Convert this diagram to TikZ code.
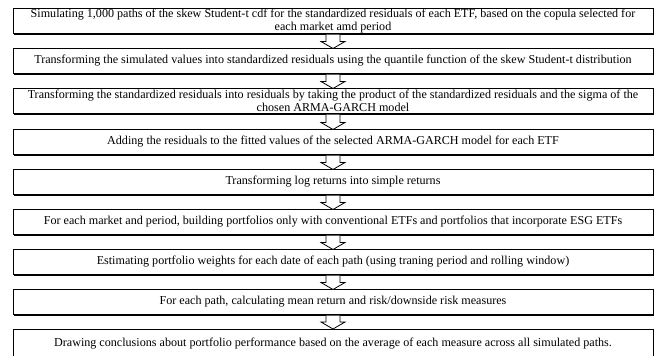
\documentclass[tikz,border=0pt]{standalone}
\usepackage{fontspec}
\setmainfont{Liberation Serif}
\usetikzlibrary{calc,shadows}
\begin{document}
\begin{tikzpicture}[x=1pt,y=-1pt,
  stepbox/.style={draw=black, line width=0.9pt, fill=white, minimum width=640pt, minimum height=25pt,
    inner sep=0pt, outer sep=0pt, align=center,
    font=\fontsize{12.1}{13}\selectfont,
    drop shadow={shadow xshift=1.2pt, shadow yshift=-1.2pt, opacity=1, fill=black}},
  blockarrow/.style={draw=black, line width=0.8pt, fill=white}]
\useasboundingbox (0,0) rectangle (656,356);
\node[stepbox] (b1) at (333,21) {Simulating 1,000 paths of the skew Student-t cdf for the standardized residuals of each ETF, based on the copula selected for\\each market amd period};
\node[stepbox] (b2) at (333,61) {Transforming the simulated values into standardized residuals using the quantile function of the skew Student-t distribution};
\node[stepbox] (b3) at (333,101) {Transforming the standardized residuals into residuals by taking the product of the standardized residuals and the sigma of the\\chosen ARMA-GARCH model};
\node[stepbox] (b4) at (333,142) {Adding the residuals to the fitted values of the selected ARMA-GARCH model for each ETF};
\node[stepbox] (b5) at (333,182) {Transforming log returns into simple returns};
\node[stepbox] (b6) at (333,222) {For each market and period, building portfolios only with conventional ETFs and portfolios that incorporate ESG ETFs};
\node[stepbox] (b7) at (333,262) {Estimating portfolio weights for each date of each path (using traning period and rolling window)};
\node[stepbox] (b8) at (333,302) {For each path, calculating mean return and risk/downside risk measures};
\node[stepbox, minimum height=30pt] (b9) at (333,344) {Drawing conclusions about portfolio performance based on the average of each measure across all simulated paths.};
\foreach \a/\b in {b1/b2,b2/b3,b3/b4,b4/b5,b5/b6,b6/b7,b7/b8,b8/b9}{
  \draw[blockarrow] ($(\a.south)+(-7,1.2)$) -- ($(\b.north)+(-7,-7)$) -- ($(\b.north)+(-12,-7)$)
     -- (\b.north) -- ($(\b.north)+(12,-7)$) -- ($(\b.north)+(7,-7)$) -- ($(\a.south)+(7,1.2)$);
}
\end{tikzpicture}
\end{document}
